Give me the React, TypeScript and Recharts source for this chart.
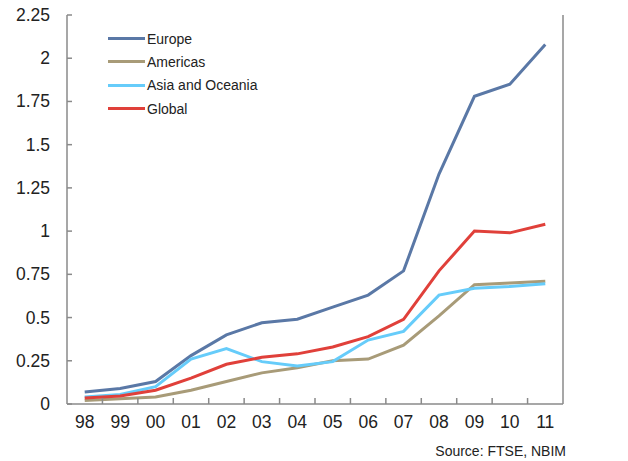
import React from 'react'
import { LineChart, Line, XAxis, YAxis } from 'recharts'

const years = ['98', '99', '00', '01', '02', '03', '04', '05', '06', '07', '08', '09', '10', '11']
const europe = [0.07, 0.09, 0.13, 0.28, 0.4, 0.47, 0.49, 0.56, 0.63, 0.77, 1.33, 1.78, 1.85, 2.08]
const americas = [0.02, 0.03, 0.04, 0.08, 0.13, 0.18, 0.21, 0.25, 0.26, 0.34, 0.51, 0.69, 0.7, 0.71]
const asiaOceania = [0.04, 0.055, 0.1, 0.26, 0.32, 0.245, 0.22, 0.245, 0.37, 0.42, 0.63, 0.67, 0.68, 0.695]
const globalSeries = [0.035, 0.046, 0.08, 0.15, 0.23, 0.27, 0.29, 0.33, 0.39, 0.49, 0.77, 1.0, 0.99, 1.04]
const yTicks = [0, 0.25, 0.5, 0.75, 1, 1.25, 1.5, 1.75, 2, 2.25]

const series = [
  { key: 'europe', name: 'Europe', color: '#5a78a6' },
  { key: 'americas', name: 'Americas', color: '#a89b78' },
  { key: 'asia', name: 'Asia and Oceania', color: '#66ccfa' },
  { key: 'global', name: 'Global', color: '#e0403a' },
]

const data = years.map((year, i) => ({
  year,
  europe: europe[i],
  americas: americas[i],
  asia: asiaOceania[i],
  global: globalSeries[i],
}))

const W = 628
const H = 461
const LEFT_W = 67
const RIGHT_W = 65
const STEP = (W - LEFT_W - RIGHT_W) / years.length
const AXIS = '#8a8a8a'
const TEXT = '#222'
const FONT = '"Liberation Sans", Arial, sans-serif'

// value ticks point into the plot area, labels sit outside
const LeftTick = (props: any) => {
  const { x, y, payload } = props
  return (
    <g>
      <line x1={x} x2={x + 5} y1={y} y2={y} stroke={AXIS} strokeWidth={1.5} />
      <text x={x - 17} y={y} dy={6} textAnchor="end" fontSize={17.5} fill={TEXT} fontFamily={FONT}>
        {String(payload.value)}
      </text>
    </g>
  )
}

const RightTick = (props: any) => {
  const { x, y, payload } = props
  return (
    <g>
      <line x1={x - 5} x2={x} y1={y} y2={y} stroke={AXIS} strokeWidth={1.5} />
      <text x={x + 16} y={y} dy={6} textAnchor="start" fontSize={17.5} fill={TEXT} fontFamily={FONT}>
        {String(payload.value)}
      </text>
    </g>
  )
}

// year label at band centre, tick mark on the band boundary
const BottomTick = (props: any) => {
  const { x, y, payload, index } = props
  return (
    <g>
      {index > 0 && (
        <line x1={x - STEP / 2} x2={x - STEP / 2} y1={y - 6} y2={y} stroke={AXIS} strokeWidth={1.5} />
      )}
      <text x={x} y={y + 24} textAnchor="middle" fontSize={17.5} fill={TEXT} fontFamily={FONT}>
        {payload.value}
      </text>
    </g>
  )
}

export default function App() {
  return (
    <div style={{ position: 'absolute', left: 0, top: 0, width: W, height: H, background: '#fff' }}>
      <LineChart width={W} height={H} data={data} margin={{ top: 15, right: 0, bottom: 27, left: 0 }}>
        <XAxis
          dataKey="year"
          scale="band"
          height={30}
          stroke={AXIS}
          strokeWidth={1.5}
          tickLine={false}
          tickSize={0}
          tickMargin={0}
          interval={0}
          tick={<BottomTick />}
        />
        <YAxis
          yAxisId="left"
          orientation="left"
          width={LEFT_W}
          domain={[0, 2.25]}
          ticks={yTicks}
          stroke={AXIS}
          strokeWidth={1.5}
          tickLine={false}
          tickSize={0}
          tickMargin={0}
          interval={0}
          tick={<LeftTick />}
        />
        <YAxis
          yAxisId="right"
          orientation="right"
          width={RIGHT_W}
          domain={[0, 2.25]}
          ticks={yTicks}
          stroke={AXIS}
          strokeWidth={1.5}
          tickLine={false}
          tickSize={0}
          tickMargin={0}
          interval={0}
          tick={<RightTick />}
        />
        {series.map(s => (
          <Line
            key={s.key}
            yAxisId="left"
            dataKey={s.key}
            name={s.name}
            stroke={s.color}
            strokeWidth={3}
            dot={false}
            type="linear"
            isAnimationActive={false}
          />
        ))}
      </LineChart>
      <div style={{ position: 'absolute', left: 108, top: 27, fontFamily: FONT, fontSize: 14, color: TEXT }}>
        {series.map(s => (
          <div key={s.key} style={{ display: 'flex', alignItems: 'center', height: 23.3 }}>
            <span style={{ display: 'inline-block', width: 37, height: 3, background: s.color, marginRight: 2 }} />
            <span>{s.name}</span>
          </div>
        ))}
      </div>
      <div
        style={{
          position: 'absolute',
          right: W - 566,
          top: 443,
          fontFamily: FONT,
          fontSize: 14,
          color: TEXT,
        }}
      >
        Source: FTSE, NBIM
      </div>
    </div>
  )
}
